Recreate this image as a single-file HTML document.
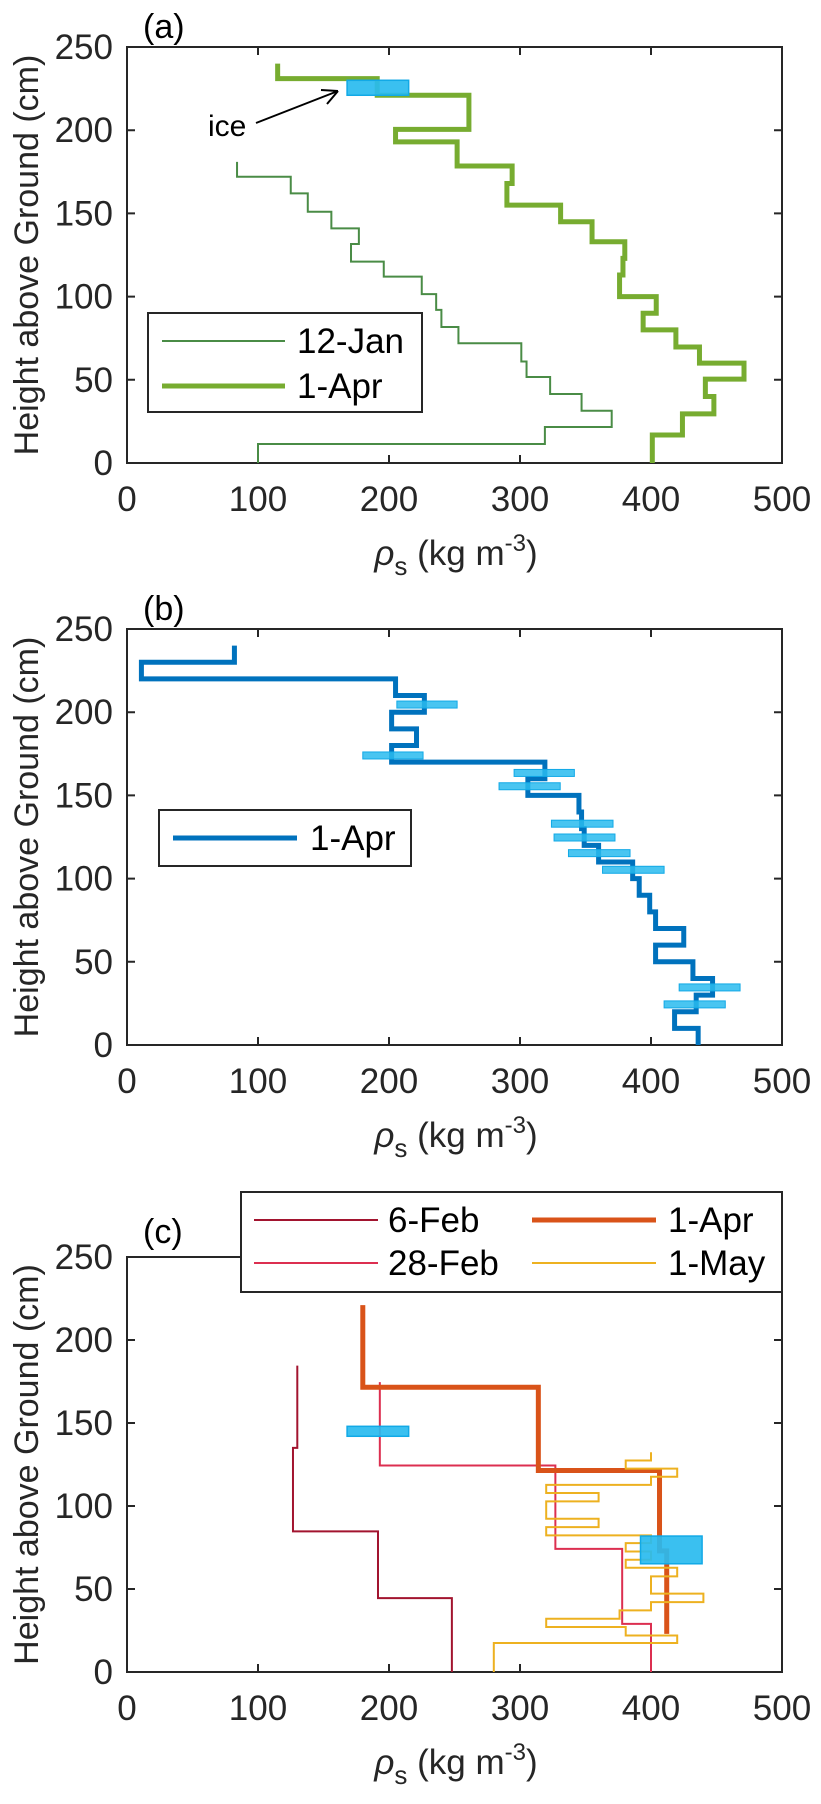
<!DOCTYPE html>
<html><head><meta charset="utf-8">
<style>
html,body{margin:0;padding:0;background:#fff;}
svg{display:block;font-family:"Liberation Sans",Arial,sans-serif;}
</style></head>
<body>
<svg id="fig" xmlns="http://www.w3.org/2000/svg" width="821" height="1804" viewBox="0 0 821 1804">
<rect width="821" height="1804" fill="#fff"/>
</svg>
<script>
// ---- data ----
const xTicks = [0,100,200,300,400,500];
const yTicks = [0,50,100,150,200,250];
// panel a
const janH = [181,172,162,151,141,131.6,121,112,101.5,92,81.7,72,61,51.7,41.5,31.4,21.6,11.4,0];
const janD = [84,125,138,156,177,171,196,225,236,240,253,301,305,323,347,370,319,100];
const aprAH = [240,231,221,200.5,193,178.5,168,155,145,133,123,113,100,90,80,69.7,60,50.4,40,29.5,16.8,0];
const aprAD = [115,191,261,205,252,294,290,331,355,380,378.6,376,404,394,419,437,471,441.5,448,424,401];
const iceALo = [168], iceAHi = [215], iceABot = [221], iceATop = [230];
// panel b
const aprBH = [240,230,220,210,200,190,180,170,160,150,140,130,120,110,100,90,80,70,60,50,40,30,20,10,0];
const aprBD = [82,11,205,227,202,221,202,319,306,345,347,349,360,386,391,399,403.5,425,403.5,432,447,434.5,418,436];
const barLo = [206,180,295.5,284,324,326,337,363,421.5,410];
const barHi = [252,226,341.5,330.7,371,372.5,384,410,468,456.7];
const barH  = [204.6,174,163.5,155.5,133,124.7,115.3,105.3,34.6,24.4];
// panel c
const febH = [184.6,135,84.7,44.5,0];
const febD = [130,126.7,191.6,248];
const feb28H = [174.6,124.4,74.2,29,0];
const feb28D = [193,327,378,400];
const aprCH = [221,171.5,121.4,73,23];
const aprCD = [180,314,406.5,412];
const mayH = [132.4,127.4,122.5,117.6,112.7,107.8,102.8,92.3,87.3,82.3,77.6,72.6,67.6,62.8,57.6,47.2,42.1,37.1,32.1,27.1,22,17.5,0];
const mayD = [400,380.7,420,400,320,360,320,360,320,400,380.7,400,380.7,420,400,440,400,376,320,380.7,420,280];
const iceCLo = [168,392], iceCHi = [215,439], iceCBot = [142,65.2], iceCTop = [148,81.9];

const NS = "http://www.w3.org/2000/svg";
const svg = document.getElementById('fig');
const X0 = 127, X1 = 782;
function mk(tag, attrs, parent){
  const e = document.createElementNS(NS, tag);
  for (const k in attrs) e.setAttribute(k, attrs[k]);
  (parent||svg).appendChild(e);
  return e;
}
function makeAxes(top, bottom){
  const sx = v => X0 + (v/500)*(X1-X0);
  const sy = h => bottom - (h/250)*(bottom-top);
  return {sx, sy};
}
function stepPath(ax, H, D){
  let d = 'M' + ax.sx(D[0]) + ' ' + ax.sy(H[0]);
  for (let i=0;i<D.length;i++){
    d += ' V' + ax.sy(H[i+1]);
    if (i+1 < D.length) d += ' H' + ax.sx(D[i+1]);
  }
  return d;
}
function drawFrame(ax, top, bottom, label, labelY, name){
  const g = mk('g', {});
  
  
  xTicks.forEach(t => {
    const x = ax.sx(t);
    const tk = mk('path', {d:'M'+x+' '+bottom+' v-8 M'+x+' '+top+' v8', stroke:'#262626','stroke-width':2}, g);
    
    
    const tl = mk('text', {x:x, y:bottom+48, 'font-size':35, 'text-anchor':'middle', fill:'#262626'}, g);
    tl.textContent = t;
    
    
  });
  yTicks.forEach(t => {
    const y = ax.sy(t);
    const tk = mk('path', {d:'M'+X0+' '+y+' h8 M'+X1+' '+y+' h-8', stroke:'#262626','stroke-width':2}, g);
    
    
    const tl = mk('text', {x:113, y:y+12, 'font-size':35, 'text-anchor':'end', fill:'#262626'}, g);
    tl.textContent = t;
    
    
  });
  const box = mk('rect', {x:X0, y:top, width:X1-X0, height:bottom-top, fill:'none', stroke:'#262626','stroke-width':2}, g);
  
  
  const yl = mk('text', {x:0, y:0, 'font-size':34, 'text-anchor':'middle', fill:'#262626',
    transform:'translate(38,'+((top+bottom)/2)+') rotate(-90)'}, g);
  yl.textContent = 'Height above Ground (cm)';
  
  
  const xl = mk('text', {x:456, y:bottom+102, 'font-size':35, 'text-anchor':'middle', fill:'#262626'}, g);
  xl.innerHTML = '<tspan font-style="italic">ρ</tspan><tspan font-size="26" dy="10">s</tspan><tspan dy="-10"> (kg m</tspan><tspan font-size="24" dy="-14">-3</tspan><tspan dy="14">)</tspan>';
  
  
  const pl = mk('text', {x:143, y:labelY, 'font-size':34, fill:'#000'}, g);
  pl.textContent = label;
  
  
}
function series(ax, H, D, color, w, name){
  const p = mk('path', {d:stepPath(ax,H,D), fill:'none', stroke:color, 'stroke-width':w, 'stroke-linejoin':'miter'});
  
  
}
function iceRect(ax, lo, hi, bot, tp, name){
  const r = mk('rect', {x:ax.sx(lo), y:ax.sy(tp), width:ax.sx(hi)-ax.sx(lo), height:ax.sy(bot)-ax.sy(tp),
    fill:'#29bbef', 'fill-opacity':0.92, stroke:'#12a9e6', 'stroke-width':1.5});
  
  
}
function legendEntry(x1,x2,y,color,w,label,tx,name){
  const l = mk('line', {x1:x1, x2:x2, y1:y, y2:y, stroke:color, 'stroke-width':w});
  
  
  const t = mk('text', {x:tx, y:y+12, 'font-size':35, fill:'#000'});
  t.textContent = label;
  
  
}

// ---- panel a ----
const axA = makeAxes(47, 463);
drawFrame(axA, 47, 463, '(a)', 38, 'panel-a');
series(axA, janH, janD, '#4a8c46', 2, 'series-12-jan');
series(axA, aprAH, aprAD, '#77ac30', 5, 'series-1-apr-a');
for (let i=0;i<iceALo.length;i++) iceRect(axA, iceALo[i], iceAHi[i], iceABot[i], iceATop[i], 'ice-layer-a');
const arrow = mk('path', {d:'M256 123 L338 91 M338 91 l-17 -1 M338 91 l-11 13', fill:'none', stroke:'#000', 'stroke-width':2});


const iceT = mk('text', {x:208, y:136, 'font-size':30, fill:'#000'});
iceT.textContent = 'ice';


const legA = mk('rect', {x:148, y:313, width:274, height:99, fill:'#fff', stroke:'#262626', 'stroke-width':2});


legendEntry(162, 285, 341, '#4a8c46', 2, '12-Jan', 297, 'legend-12-jan');
legendEntry(162, 285, 386, '#77ac30', 5, '1-Apr', 297, 'legend-1-apr-a');

// ---- panel b ----
const axB = makeAxes(629, 1045);
drawFrame(axB, 629, 1045, '(b)', 620, 'panel-b');
series(axB, aprBH, aprBD, '#0072bd', 5, 'series-1-apr-b');
for (let i=0;i<barLo.length;i++){
  const r = mk('rect', {x:axB.sx(barLo[i]), y:axB.sy(barH[i])-3.5, width:axB.sx(barHi[i])-axB.sx(barLo[i]), height:7,
    fill:'#29bbef', 'fill-opacity':0.85, stroke:'#12a9e6', 'stroke-width':1});
  
  
}
const legB = mk('rect', {x:159, y:810, width:252, height:56, fill:'#fff', stroke:'#262626', 'stroke-width':2});


legendEntry(173, 297, 838, '#0072bd', 5, '1-Apr', 310, 'legend-1-apr-b');

// ---- panel c ----
const axC = makeAxes(1257, 1672);
drawFrame(axC, 1257, 1672, '(c)', 1243, 'panel-c');
series(axC, febH, febD, '#a2142f', 2, 'series-6-feb');
series(axC, feb28H, feb28D, '#dc2f50', 2, 'series-28-feb');
series(axC, aprCH, aprCD, '#d95319', 5, 'series-1-apr-c');
series(axC, mayH, mayD, '#edb120', 2, 'series-1-may');
for (let i=0;i<iceCLo.length;i++) iceRect(axC, iceCLo[i], iceCHi[i], iceCBot[i], iceCTop[i], 'ice-layer-c');
const legC = mk('rect', {x:241, y:1192, width:541, height:100, fill:'#fff', stroke:'#262626', 'stroke-width':2});


legendEntry(254, 378, 1220, '#a2142f', 2, '6-Feb', 388, 'legend-6-feb');
legendEntry(254, 378, 1263, '#dc2f50', 2, '28-Feb', 388, 'legend-28-feb');
legendEntry(532, 656, 1220, '#d95319', 5, '1-Apr', 668, 'legend-1-apr-c');
legendEntry(532, 656, 1263, '#edb120', 2, '1-May', 668, 'legend-1-may');
</script>
</body></html>
